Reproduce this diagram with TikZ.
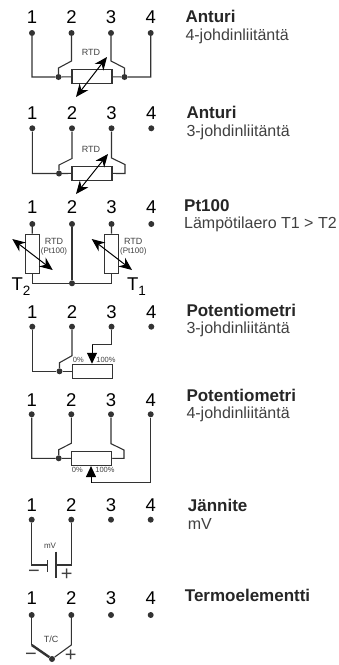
\documentclass[tikz,border=0pt]{standalone}
\usepackage{fontspec}
\setmainfont{Liberation Sans}
\usetikzlibrary{arrows.meta}
\definecolor{WIRE}{gray}{0.2}
\definecolor{INK}{gray}{0.25}
\tikzset{
    NUM/.style ={text=black,font=\fontsize{18.5}{20}\selectfont},
    DOT/.style ={circle,fill=WIRE,inner sep=0pt,minimum size=6pt},
    JO/.style ={circle,fill=WIRE,inner sep=0pt,minimum size=6pt},
    RA/.style ={rectangle,draw=WIRE,fill=white,line width=1.1pt,minimum width=40pt,minimum height=14pt,inner sep=0pt},
    RB/.style ={rectangle,draw=WIRE,fill=white,line width=1.1pt,minimum width=14pt,minimum height=39pt,inner sep=0pt},
    WI/.style ={draw=WIRE,line width=1.1pt},
    AR/.style ={black,line width=1pt,{Stealth[length=13pt,width=11pt]}-{Stealth[length=13pt,width=11pt]}},
    TIP/.style ={black,line width=1pt,-{Triangle[length=11pt,width=10pt]}},
    SM/.style ={text=INK,font=\fontsize{9}{10}\selectfont,inner sep=0pt},
    SN/.style ={text=INK,font=\fontsize{8}{9}\selectfont,inner sep=0pt},
    PC/.style ={text=INK,font=\fontsize{7.5}{8}\selectfont,inner sep=0pt},
    TI/.style ={anchor=west,text=black!85,inner sep=0pt,font=\fontsize{17}{19}\selectfont\bfseries},
    SU/.style ={anchor=west,text=INK,inner sep=0pt,font=\fontsize{16}{18}\selectfont},
    SG/.style ={text=INK,inner sep=0pt,font=\fontsize{20}{20}\selectfont}}
\newcommand{\LOW}[1]{\raisebox{-5pt}{\fontsize{13.5}{14}\selectfont #1}}
\begin{document}
\begin{tikzpicture}[x=1pt,y=-1pt]
        \useasboundingbox (0,0) rectangle (339,665);
        % 4-johdin
        \foreach \n/\x in {1/32,2/71.5,3/111,4/150.7}{
            \node[NUM] (Aa\n) at (\x,17){\n};
            \node[DOT] (A\n) at (\x,33){};
        }
        \node[RA] (AR) at (92,76.5){};
        \node[JO] (AJ1) at (58.5,77){};
        \node[JO] (AJ2) at (124.5,77){};
        \coordinate (AB2) at (71.5,61);
        \coordinate (AC2) at (58.5,68);
        \coordinate (AB3) at (111,61);
        \coordinate (AC3) at (124.5,68);
        \coordinate (AT) at (107,57);
        \coordinate (AU) at (76,97);
        \draw[WI] (A1) |- (AJ1) -- (AR);
        \draw[WI] (A2) -- (AB2) -- (AC2) -- (AJ1);
        \draw[WI] (A3) -- (AB3) -- (AC3) -- (AJ2);
        \draw[WI] (AR) -- (AJ2) -| (A4);
        \draw[AR] (AT) -- (AU);
        \node[SM] (AL) at (91,52){RTD};
        \node[TI] (AH) at (185.3,16.7){Anturi};
        \node[SU] (AS) at (185.3,36){4-johdinliitäntä};
        % 3-johdin
        \foreach \n/\x in {1/32.3,2/72,3/111.5,4/151.3}{
            \node[NUM] (Ba\n) at (\x,112.7){\n};
            \node[DOT] (B\n) at (\x,128.3){};
        }
        \node[RA] (BR) at (92,173.3){};
        \node[JO] (BJ1) at (59,173.5){};
        \coordinate (BB2) at (72,158.5);
        \coordinate (BC2) at (59,165);
        \coordinate (BB3) at (111.5,158);
        \coordinate (BC3) at (125,164.5);
        \coordinate (BD3) at (125,173.5);
        \coordinate (BT) at (108,154);
        \coordinate (BU) at (76,194);
        \draw[WI] (B1) |- (BJ1) -- (BR);
        \draw[WI] (B2) -- (BB2) -- (BC2) -- (BJ1);
        \draw[WI] (B3) -- (BB3) -- (BC3) -- (BD3) -- (BR);
        \draw[AR] (BT) -- (BU);
        \node[SM] (BL) at (91,149){RTD};
        \node[TI] (BH) at (186.3,112.7){Anturi};
        \node[SU] (BS) at (186.3,132.3){3-johdinliitäntä};
        % Pt100
        \foreach \n/\x in {1/32.3,2/72,3/111.5,4/151.3}{
            \node[NUM] (Ca\n) at (\x,207){\n};
            \node[DOT] (C\n) at (\x,224){};
        }
        \node[RB] (CR1) at (32.2,253.7){};
        \node[RB] (CR2) at (111.4,253.7){};
        \node[JO] (CJ) at (72,283.3){};
        \draw[WI] (C1) -- (CR1);
        \draw[WI] (C3) -- (CR2);
        \draw[WI] (CR1) |- (CJ) -| (CR2);
        \draw[WI,line width=1.5pt] (C2) -- (CJ);
        \coordinate (CT1) at (12.3,239);
        \coordinate (CU1) at (52.7,270);
        \coordinate (CT2) at (91.7,239);
        \coordinate (CU2) at (132,270);
        \draw[AR] (CT1) -- (CU1);
        \draw[AR] (CT2) -- (CU2);
        \node[SM] (CL1) at (54,241.7){RTD};
        \node[SN] (CP1) at (54,251.5){(Pt100)};
        \node[SM] (CL2) at (133.3,241.7){RTD};
        \node[SN] (CP2) at (133.3,251.5){(Pt100)};
        \node[NUM,inner sep=0pt] (CM2) at (21,287){T\LOW{2}};
        \node[NUM,inner sep=0pt] (CM1) at (136.5,287){T\LOW{1}};
        \node[TI] (CH) at (184,205.7){Pt100};
        \node[SU] (CS) at (184,224.3){Lämpötilaero T1 > T2};
        % Potentiometri 3
        \foreach \n/\x in {1/32.3,2/72,3/111.5,4/151.3}{
            \node[NUM] (Da\n) at (\x,311.7){\n};
            \node[DOT] (D\n) at (\x,326.7){};
        }
        \node[RA] (DR) at (92.3,371.3){};
        \node[JO] (DJ) at (59.5,371.3){};
        \coordinate (DB2) at (72,355.7);
        \coordinate (DC2) at (59.5,362.7);
        \coordinate (DB3) at (92,344.7);
        \draw[WI] (D1) |- (DJ) -- (DR);
        \draw[WI] (D2) -- (DB2) -- (DC2) -- (DJ);
        \draw[WI] (D3) |- (DB3);
        \draw[TIP] (DB3) -- (DB3 |- DR.north);
        \node[PC] (DA) at (78.3,360.3){0\%};
        \node[PC] (DE) at (106,360.3){100\%};
        \node[TI] (DH) at (186.3,310){Potentiometri};
        \node[SU] (DS) at (186.3,329.3){3-johdinliitäntä};
        % Potentiometri 4
        \foreach \n/\x in {1/31.7,2/71.3,3/111,4/150.7}{
            \node[NUM] (Ea\n) at (\x,400){\n};
            \node[DOT] (E\n) at (\x,414.3){};
        }
        \node[RA] (ER) at (91.7,458.5){};
        \node[JO] (EJ) at (58.7,458.3){};
        \coordinate (EB2) at (71.3,443.3);
        \coordinate (EC2) at (58.7,449.7);
        \coordinate (EB3) at (111,443.7);
        \coordinate (EC3) at (124,450);
        \coordinate (ED3) at (124,458.3);
        \coordinate (EB4) at (91,482.7);
        \draw[WI] (E1) |- (EJ) -- (ER);
        \draw[WI] (E2) -- (EB2) -- (EC2) -- (EJ);
        \draw[WI] (E3) -- (EB3) -- (EC3) -- (ED3) -- (ER);
        \draw[WI] (E4) |- (EB4);
        \draw[TIP] (EB4) -- (EB4 |- ER.south);
        \node[PC] (EA) at (77.3,470){0\%};
        \node[PC] (EE) at (105,470){100\%};
        \node[TI] (EH) at (186.3,395){Potentiometri};
        \node[SU] (ES) at (186.3,414){4-johdinliitäntä};
        % Jannite
        \foreach \n/\x in {1/31.7,2/71.3,3/111,4/150.7}{
            \node[NUM] (Fa\n) at (\x,505){\n};
            \node[DOT] (F\n) at (\x,519.7){};
        }
        \coordinate (FA) at (47.3,565);
        \coordinate (FB) at (56,565);
        \coordinate (FA1) at (47.3,560);
        \coordinate (FA2) at (47.3,571.7);
        \coordinate (FB1) at (56,551.7);
        \coordinate (FB2) at (56,578.3);
        \draw[WI] (F1) |- (FA);
        \draw[WI] (F2) |- (FB);
        \draw[WI] (FA1) -- (FA2);
        \draw[WI] (FB1) -- (FB2);
        \node[SN] (FL) at (50,546){mV};
        \node[SG] (FM) at (34,574){−};
        \node[SG] (FP) at (66.7,574.5){+};
        \node[TI] (FH) at (187.7,505){Jännite};
        \node[SU] (FS) at (187.7,524.3){mV};
        % Termoelementti
        \foreach \n/\x in {1/31.7,2/71.3,3/111,4/150.7}{
            \node[NUM] (Ga\n) at (\x,598.3){\n};
            \node[DOT] (G\n) at (\x,615){};
        }
        \node[JO] (GJ) at (52,659){};
        \coordinate (GB1) at (31.7,645);
        \coordinate (GB2) at (71.3,645);
        \draw[WI] (G1) -- (GB1);
        \draw[WI,line width=2.4pt] (GB1) -- (GJ);
        \draw[WI] (GJ) -- (GB2) -- (G2);
        \node[SM] (GL) at (51,639){T/C};
        \node[SG] (GM) at (31,657){−};
        \node[SG] (GP) at (70.7,656){+};
        \node[TI] (GH) at (184.7,595){Termoelementti};
    \end{tikzpicture}
\end{document}
